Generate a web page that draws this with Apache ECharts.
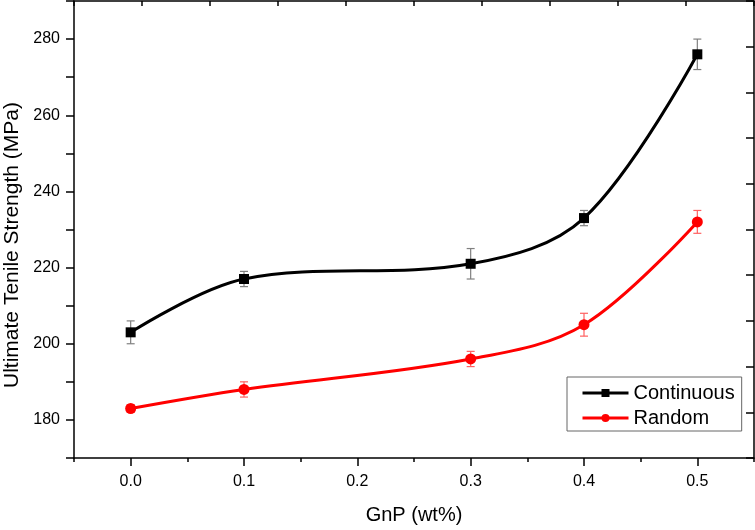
<!DOCTYPE html>
<html>
<head>
<meta charset="utf-8">
<script src="https://cdn.jsdelivr.net/npm/echarts@6/dist/echarts.min.js"></script>
<style>
html,body{margin:0;padding:0;background:#fff;}
#chart{width:755px;height:530px;}
</style>
</head>
<body>
<div id="chart"></div>
<script>
// ---- data ----
const xValues = [0, 0.1, 0.3, 0.4, 0.5];
const continuousValues = [203, 217, 221, 233, 276];
const continuousErrors = [3, 2, 4, 2, 4];
const randomValues = [183, 188, 196, 205, 232];
const randomErrors = [1, 2, 2, 3, 3];
const xTickLabels = [0, 0.1, 0.2, 0.3, 0.4, 0.5];
const seriesNames = ['Continuous', 'Random'];

const FONT = 'Liberation Sans, Arial, sans-serif';
const chart = echarts.init(document.getElementById('chart'), null, {renderer: 'canvas'});

function pairs(vals) { return xValues.map((x, i) => [x, vals[i]]); }
function errData(vals, errs) { return xValues.map((x, i) => [x, vals[i], errs[i]]); }

function errorRenderer(color) {
  return function (params, api) {
    const x = api.value(0), y = api.value(1), e = api.value(2);
    const top = api.coord([x, y + e]);
    const bot = api.coord([x, y - e]);
    const hw = 4;
    const st = {stroke: color, lineWidth: 1.2};
    return {
      type: 'group',
      children: [
        {type: 'line', shape: {x1: top[0], y1: top[1], x2: bot[0], y2: bot[1]}, style: st},
        {type: 'line', shape: {x1: top[0] - hw, y1: top[1], x2: top[0] + hw, y2: top[1]}, style: st},
        {type: 'line', shape: {x1: bot[0] - hw, y1: bot[1], x2: bot[0] + hw, y2: bot[1]}, style: st}
      ]
    };
  };
}

const axisLine = {show: true, onZero: false, lineStyle: {color: '#000', width: 1.5}};

const option = {
  animation: false,
  backgroundColor: '#fff',
  grid: {left: 74, right: 1, top: 1, bottom: 67, containLabel: false},
  xAxis: [
    {
      type: 'value', position: 'bottom', min: -0.05, max: 0.55,
      axisLine: axisLine,
      axisTick: {show: true, inside: false, length: 8, customValues: xTickLabels, lineStyle: {color: '#000', width: 1.5}},
      axisLabel: {show: true, customValues: xTickLabels, margin: 16, fontSize: 16, fontFamily: FONT, color: '#000',
        formatter: v => v.toFixed(1)},
      splitLine: {show: false},
      name: 'GnP (wt%)', nameLocation: 'middle', nameGap: 47,
      nameTextStyle: {fontSize: 20, fontFamily: FONT, color: '#000'}
    },
    {
      type: 'value', position: 'bottom', min: 0, max: 6, interval: 1,
      axisLine: {show: false, onZero: false},
      axisTick: {show: true, inside: false, length: 4, lineStyle: {color: '#000', width: 1.5}},
      axisLabel: {show: false}, splitLine: {show: false}
    },
    {
      type: 'value', position: 'top', min: 0, max: 10, interval: 1,
      axisLine: axisLine,
      axisTick: {show: true, inside: true, length: 5, lineStyle: {color: '#000', width: 1.5}},
      axisLabel: {show: false}, splitLine: {show: false}
    }
  ],
  yAxis: [
    {
      type: 'value', position: 'left', min: 170, max: 290, interval: 10,
      axisLine: axisLine,
      axisTick: {show: true, inside: false, length: 8, lineStyle: {color: '#000', width: 1.5}},
      axisLabel: {show: true, margin: 14, fontSize: 16, fontFamily: FONT, color: '#000',
        formatter: v => (v % 20 === 0 ? String(v) : '')},
      splitLine: {show: false}
    },
    {
      type: 'value', position: 'right', min: 0, max: 10, interval: 1,
      axisLine: axisLine,
      axisTick: {show: true, inside: true, length: 8, lineStyle: {color: '#000', width: 1.5}},
      axisLabel: {show: false}, splitLine: {show: false}
    }
  ],
  legend: {
    show: true, orient: 'vertical', left: 567, top: 377,
    padding: [6, 7, 3, 14], itemGap: 5, itemWidth: 46, itemHeight: 10,
    borderColor: '#666', borderWidth: 1, backgroundColor: '#fff',
    data: seriesNames,
    lineStyle: {width: 3},
    textStyle: {fontSize: 20, fontFamily: FONT, color: '#000'}
  },
  graphic: [
    {
      type: 'text', rotation: Math.PI / 2,
      x: 12, y: 245,
      style: {text: 'Ultimate Tenile Strength (MPa)', fontSize: 21, fontFamily: FONT, fill: '#000',
        align: 'center', verticalAlign: 'middle'}
    }
  ],
  series: [
    {
      type: 'custom', name: 'errC', xAxisIndex: 0, yAxisIndex: 0, z: 1,
      renderItem: errorRenderer('#808080'), data: errData(continuousValues, continuousErrors), silent: true
    },
    {
      type: 'custom', name: 'errR', xAxisIndex: 0, yAxisIndex: 0, z: 1,
      renderItem: errorRenderer('#ff6060'), data: errData(randomValues, randomErrors), silent: true
    },
    {
      type: 'line', name: seriesNames[0], xAxisIndex: 0, yAxisIndex: 0, z: 3,
      data: pairs(continuousValues), smooth: 0.35,
      symbol: 'rect', symbolSize: 10, showSymbol: true,
      lineStyle: {color: '#000', width: 3}, itemStyle: {color: '#000'}
    },
    {
      type: 'line', name: seriesNames[1], xAxisIndex: 0, yAxisIndex: 0, z: 3,
      data: pairs(randomValues), smooth: 0.35,
      symbol: 'circle', symbolSize: 11, showSymbol: true,
      lineStyle: {color: '#ff0000', width: 3}, itemStyle: {color: '#ff0000'}
    }
  ]
};
chart.setOption(option);
</script>
</body>
</html>
